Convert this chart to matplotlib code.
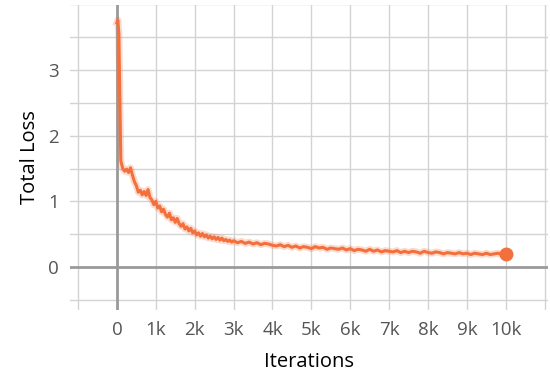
import matplotlib
matplotlib.use("Agg")
import matplotlib.pyplot as plt

# training curve
iters = [0, 25, 50, 75, 100] + list(range(150, 3001, 50)) + list(range(3100, 10001, 100))
loss = [3.72, 3.76, 3.55, 2.60, 1.62,
        1.50, 1.46, 1.49, 1.44, 1.51, 1.40, 1.30, 1.24, 1.14, 1.17,
        1.10, 1.15, 1.09, 1.18, 1.06, 1.02, 0.95, 1.00, 0.90, 0.93,
        0.84, 0.88, 0.80, 0.76, 0.82, 0.72, 0.75, 0.68, 0.74, 0.66,
        0.62, 0.66, 0.58, 0.61, 0.55, 0.59, 0.52, 0.55, 0.49, 0.52,
        0.47, 0.51, 0.46, 0.49, 0.44, 0.47, 0.43, 0.46, 0.42, 0.45,
        0.41, 0.44, 0.40, 0.42, 0.39, 0.41, 0.38, 0.40,
        0.37, 0.39, 0.36, 0.38, 0.35, 0.37, 0.34, 0.36, 0.35, 0.33,
        0.32, 0.34, 0.31, 0.33, 0.30, 0.32, 0.29, 0.31, 0.30, 0.28,
        0.31, 0.29, 0.30, 0.27, 0.29, 0.28, 0.27, 0.29, 0.26, 0.28,
        0.25, 0.27, 0.26, 0.24, 0.27, 0.24, 0.26, 0.23, 0.25, 0.24,
        0.23, 0.25, 0.22, 0.24, 0.22, 0.24, 0.23, 0.21, 0.24, 0.22,
        0.21, 0.23, 0.22, 0.20, 0.22, 0.21, 0.20, 0.22, 0.20, 0.21,
        0.19, 0.21, 0.20, 0.19, 0.21, 0.19, 0.20, 0.21, 0.19, 0.20]

x_ticks = [0, 1000, 2000, 3000, 4000, 5000, 6000, 7000, 8000, 9000, 10000]
x_labels = ["0", "1k", "2k", "3k", "4k", "5k", "6k", "7k", "8k", "9k", "10k"]
y_ticks = [0, 1, 2, 3]

plt.rcParams['font.family'] = ['Open Sans', 'DejaVu Sans']

fig = plt.figure(figsize=(5.5, 3.76), dpi=100)
ax = fig.add_axes([0.127, 0.1755, 0.869, 0.811])

# grid
for gx in range(-1000, 11001, 1000):
    ax.axvline(gx, color='#d3d3d3', lw=1, zorder=0)
for gy in [-0.5, 0.5, 1, 1.5, 2, 2.5, 3, 3.5, 4]:
    ax.axhline(gy, color='#d3d3d3', lw=1, zorder=0)
ax.axvline(0, color='#9a9a9a', lw=2, zorder=1)
ax.axhline(0, color='#9a9a9a', lw=2, zorder=1)

orange = '#f3703c'
ax.plot(iters, loss, color=orange, lw=5, alpha=0.25, zorder=2)
ax.plot(iters, loss, color=orange, lw=2.2, zorder=3)
ax.plot(iters[-1], loss[-1], 'o', color=orange, ms=9, zorder=4)

ax.set_xlim(-1210, 11080)
ax.set_ylim(-0.655, 3.99)
ax.set_xticks(x_ticks)
ax.set_xticklabels(x_labels)
ax.set_yticks(y_ticks)
ax.tick_params(length=0, labelsize=13.5, labelcolor='#555555')
ax.tick_params(axis='x', pad=8)
ax.tick_params(axis='y', pad=8)
for s in ax.spines.values():
    s.set_visible(False)

ax.set_xlabel('Iterations', fontsize=14.5, labelpad=9)
ax.set_ylabel('Total Loss', fontsize=14.5, labelpad=6)

fig.savefig('out.png', dpi=100)
